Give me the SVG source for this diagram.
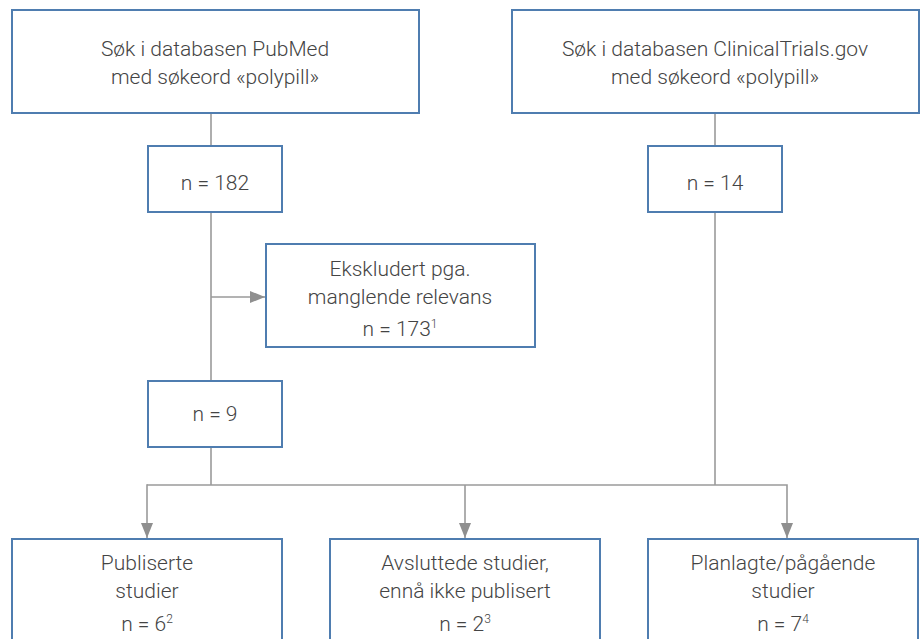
<svg xmlns="http://www.w3.org/2000/svg" width="923" height="639" viewBox="0 0 923 639">
<defs>
<style>
.box{fill:#fff;stroke:#4f7db0;stroke-width:2}
.t{font-family:Roboto,"Liberation Sans",sans-serif;font-weight:300;font-size:21px;fill:#444;text-anchor:middle}
.sup{font-size:12px}
.c{fill:none;stroke:#9a9a9a;stroke-width:1.6}
</style>
<marker id="ah" markerWidth="15" markerHeight="12" viewBox="0 0 15 12" refX="15" refY="6" orient="auto" markerUnits="userSpaceOnUse">
<path d="M0,0 L15,6 L0,12 Z" fill="#8f8f8f"/>
</marker>
</defs>
<rect width="923" height="639" fill="#fff"/>
<g id="connectors">
<line class="c" x1="211" y1="113" x2="211" y2="381"/>
<line class="c" x1="715" y1="113" x2="715" y2="485"/>
<line class="c" x1="211" y1="297" x2="265" y2="297" marker-end="url(#ah)"/>
<line class="c" x1="211" y1="447" x2="211" y2="485"/>
<polyline class="c" points="147,485 787,485 787,538" marker-end="url(#ah)"/>
<line class="c" x1="465" y1="485" x2="465" y2="538" marker-end="url(#ah)"/>
<line class="c" x1="147" y1="484.2" x2="147" y2="538" marker-end="url(#ah)"/>
</g>
<g id="pubmed">
<rect class="box" x="12" y="10" width="407" height="103"/>
<text class="t" x="215" y="56">Søk i databasen PubMed</text>
<text class="t" x="215" y="84">med søkeord «polypill»</text>
</g>
<g id="clinicaltrials">
<rect class="box" x="512" y="10" width="407" height="103"/>
<text class="t" x="715" y="56">Søk i databasen ClinicalTrials.gov</text>
<text class="t" x="715" y="84">med søkeord «polypill»</text>
</g>
<g id="n182">
<rect class="box" x="148" y="146" width="134" height="66"/>
<text class="t" x="215" y="190">n = 182</text>
</g>
<g id="n14">
<rect class="box" x="648" y="146" width="134" height="66"/>
<text class="t" x="715" y="190">n = 14</text>
</g>
<g id="excluded">
<rect class="box" x="266" y="244" width="269" height="103"/>
<text class="t" x="400" y="276">Ekskludert pga.</text>
<text class="t" x="400" y="304">manglende relevans</text>
<text class="t" x="400" y="336">n = 173<tspan class="sup" dy="-8">1</tspan></text>
</g>
<g id="n9">
<rect class="box" x="148" y="381" width="134" height="66"/>
<text class="t" x="215" y="421">n = 9</text>
</g>
<g id="published">
<rect class="box" x="12" y="539" width="270" height="110"/>
<text class="t" x="147" y="570">Publiserte</text>
<text class="t" x="147" y="598">studier</text>
<text class="t" x="147" y="631">n = 6<tspan class="sup" dy="-8">2</tspan></text>
</g>
<g id="completed">
<rect class="box" x="330" y="539" width="270" height="110"/>
<text class="t" x="465" y="570">Avsluttede studier,</text>
<text class="t" x="465" y="598">ennå ikke publisert</text>
<text class="t" x="465" y="631">n = 2<tspan class="sup" dy="-8">3</tspan></text>
</g>
<g id="planned">
<rect class="box" x="648" y="539" width="270" height="110"/>
<text class="t" x="783" y="570">Planlagte/pågående</text>
<text class="t" x="783" y="598">studier</text>
<text class="t" x="783" y="631">n = 7<tspan class="sup" dy="-8">4</tspan></text>
</g>
</svg>
